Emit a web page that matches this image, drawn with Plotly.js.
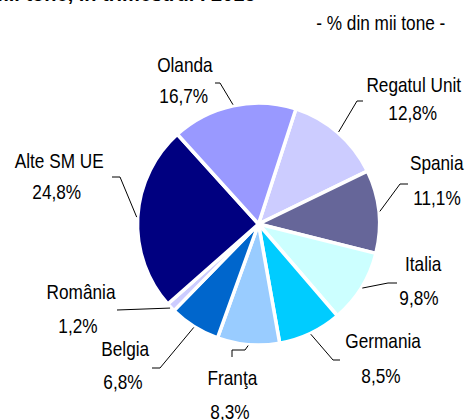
<!DOCTYPE html>
<html><head><meta charset="utf-8">
<script src="https://cdn.plot.ly/plotly-3.0.1.min.js"></script>
<style>html,body{margin:0;padding:0;background:#fff}#c{width:467px;height:420px}</style>
</head><body><div id="c"></div>
<script>
// Data
const categories = ["Regatul Unit","Spania","Italia","Germania","Franţa","Belgia","România","Alte SM UE","Olanda"];
const values = [12.8, 11.1, 9.8, 8.5, 8.3, 6.8, 1.2, 24.8, 16.7];
const colors = ["#CCCCFF","#666699","#CCFFFF","#00CCFF","#99CCFF","#0066CC","#CCCCFF","#000080","#9999FF"];
const unitLabel = "- % din mii tone -";
const titleText = "mii tone, în trimestrul I 2015";

// Layout helpers (pixels, plot area = full page)
const W = 467, H = 420;
const cx = 258.5, cy = 224, R = 121;
const rotation = 18;
// label layout: name centre, value centre, leader points after the slice edge
const labelLayout = [
  {n:[414,85], v:[413,113], pts:[[357,101],[363,101]]},
  {n:[437,163], v:[437,197], pts:[[400,184],[408,184]]},
  {n:[423,263], v:[419,297], pts:[[388,283],[397,283]]},
  {n:[383,340], v:[381,375], pts:[[333,360],[340,360]]},
  {n:[232,377], v:[230,411], pts:[[245,350],[232,350],[232,357]]},
  {n:[126,348], v:[123,381], pts:[[160,368],[152,368]]},
  {n:[81,291],  v:[78,325],  pts:[[117,310]]},
  {n:[59,160],  v:[57,192],  pts:[[120,177],[112,177]]},
  {n:[185,64],  v:[184,96],  pts:[[220,83],[215,83]]}
];

const px = x => x / W;
const py = y => 1 - y / H;
const font = {family: "'Liberation Sans', Arial, sans-serif", size: 21, color: "#000"};
const narrow = 0.82;

const total = values.reduce((a,b)=>a+b,0);
const annotations = [];
const shapes = [];
let acc = 0;
values.forEach((v,i)=>{
  const mid = (rotation + (acc + v/2) / total * 360) * Math.PI / 180;
  acc += v;
  const ex = cx + (R+1) * Math.sin(mid), ey = cy - (R+1) * Math.cos(mid);
  const L = labelLayout[i];
  let path = `M ${px(ex)} ${py(ey)}`;
  L.pts.forEach(p => { path += ` L ${px(p[0])} ${py(p[1])}`; });
  shapes.push({type:'path', xref:'paper', yref:'paper', path, line:{color:'#000', width:1}});
  annotations.push({xref:'paper', yref:'paper', x:px(L.n[0]), y:py(L.n[1]), xanchor:'center', yanchor:'middle', text:categories[i], showarrow:false, font});
  annotations.push({xref:'paper', yref:'paper', x:px(L.v[0]), y:py(L.v[1]), xanchor:'center', yanchor:'middle', text:v.toFixed(1).replace('.', ',') + '%', showarrow:false, font});
});
annotations.push({xref:'paper', yref:'paper', x:px(381), y:py(22), xanchor:'center', yanchor:'middle', text:unitLabel, showarrow:false, font});
const nNarrow = annotations.length;
annotations.push({xref:'paper', yref:'paper', x:px(258), y:py(7), xanchor:'right', yanchor:'bottom', text:'<b>'+titleText+'</b>', showarrow:false,
  font:{family:"'Liberation Sans', Arial, sans-serif", size:20, color:'#000'}});

const trace = {
  type:'pie', labels:categories, values:values, sort:false, direction:'clockwise', rotation:rotation,
  marker:{colors:colors, line:{color:'#fff', width:3.5}},
  textinfo:'none', hoverinfo:'none', showlegend:false,
  domain:{x:[px(cx-R), px(cx+R)], y:[py(cy+R), py(cy-R)]}
};
Plotly.newPlot('c', [trace], {
  width:W, height:H, margin:{l:0,r:0,t:0,b:0}, paper_bgcolor:'#fff', plot_bgcolor:'#fff',
  annotations, shapes, showlegend:false
}, {staticPlot:true}).then(gd => {
  // emulate the condensed (narrow) typeface of the original
  gd.querySelectorAll('.annotation').forEach(a => {
    const idx = +a.getAttribute('data-index');
    if (idx >= nNarrow) return;
    const t = a.querySelector('.annotation-text');
    if (!t) return;
    const b = t.getBBox();
    const c = b.x + b.width / 2;
    t.setAttribute('transform', `translate(${c},0) scale(${narrow},1) translate(${-c},0)`);
  });
});
</script></body></html>
